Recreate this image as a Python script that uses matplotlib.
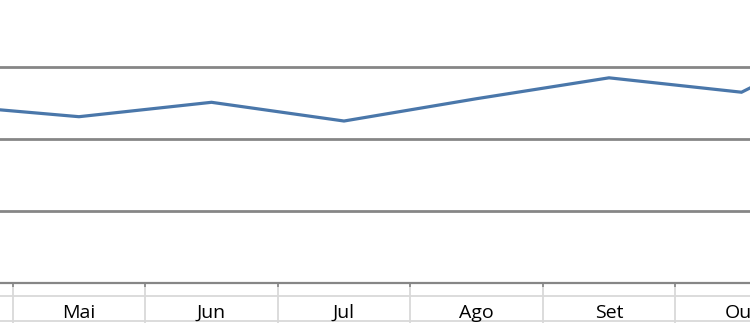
import numpy as np
import matplotlib.pyplot as plt
import matplotlib.transforms as mtransforms

# months (Portuguese) and values
meses = ['Jan', 'Fev', 'Mar', 'Abr', 'Mai', 'Jun', 'Jul', 'Ago', 'Set', 'Out', 'Nov', 'Dez']
valores = [24.0, 24.5, 24.8, 24.7, 23.1, 25.1, 22.5, 25.6, 28.5, 26.5, 35.7, 34.0]

fig = plt.figure(figsize=(7.5, 3.23), dpi=100)
ax = fig.add_axes([0, 40 / 323, 1, 283 / 323])

x = np.arange(len(meses))
ax.plot(x, valores, color='#4a77aa', lw=2.3, solid_joinstyle='miter', zorder=3)

# horizontal gridlines
for g in [10, 20, 30]:
    ax.axhline(g, color='#868686', lw=2.0, zorder=1)

for s in ['top', 'right', 'left']:
    ax.spines[s].set_visible(False)
ax.spines['bottom'].set_color('#868686')
ax.spines['bottom'].set_linewidth(1.6)
ax.set_yticks([])

# tick marks at category boundaries
ax.set_xticks(x[:-1] + 0.5)
ax.set_xticklabels([])
ax.tick_params(axis='x', direction='out', length=3, width=1.2, color='#868686')

# table-like label area below the axis
trans = mtransforms.blended_transform_factory(ax.transData, ax.transAxes)
y_row = (283 - 296) / 283
y_bot = (283 - 321) / 283
ax.plot([3.0, 10.0], [y_row, y_row], transform=trans, color='#d9d9d9', lw=1.3, clip_on=False)
ax.plot([3.0, 10.0], [y_bot, y_bot], transform=trans, color='#d9d9d9', lw=1.3, clip_on=False)
for b in x[:-1] + 0.5:
    ax.plot([b, b], [0, -0.2], transform=trans, color='#d9d9d9', lw=1.3, clip_on=False, zorder=0)

# only the months whose label falls inside the visible window
for i, m in enumerate(meses):
    if 3.5 < i < 9.5:
        ax.text(i, (283 - 313) / 283, m, transform=trans, ha='center', va='center',
                fontsize=14, family='Open Sans', color='#000000', clip_on=False)

ax.set_xlim(3.404, 9.064)
ax.set_ylim(0, 39.31)

fig.savefig('out.png', dpi=100)
